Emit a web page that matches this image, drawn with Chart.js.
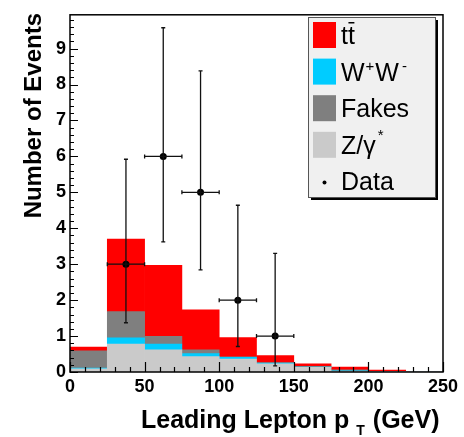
<!DOCTYPE html>
<html><head><meta charset="utf-8">
<script src="https://cdn.jsdelivr.net/npm/chart.js@4.4.0/dist/chart.umd.min.js"></script>
<style>html,body{margin:0;padding:0;background:#fff;}#wrap{width:464px;height:437px;position:relative;}</style>
</head><body><div id="wrap"><canvas id="c" width="464" height="437" style="width:464px;height:437px"></canvas></div>
<script>
// ---- data ----
const binCenters = [12.5, 37.5, 62.5, 87.5, 112.5, 137.5, 162.5, 187.5, 212.5, 237.5];
const zGamma = [0.09, 0.78, 0.62, 0.43, 0.36, 0.23, 0.13, 0.02, 0.01, 0];
const wwVals = [0.02, 0.17, 0.16, 0.08, 0.05, 0.02, 0.01, 0.01, 0, 0];
const fakes  = [0.48, 0.73, 0.21, 0.11, 0.01, 0.01, 0.02, 0.03, 0, 0];
const ttbar  = [0.10, 2.02, 1.98, 1.11, 0.54, 0.20, 0.07, 0.08, 0.04, 0];
const dataX = [37.5, 62.5, 87.5, 112.5, 137.5];
const dataY = [3, 6, 5, 2, 1];
const dataLow = [1.37, 3.62, 2.84, 0.71, 0.17];
const dataHigh = [5.92, 9.58, 8.38, 4.64, 3.30];
const binHalfWidth = 12.5;
const xTickLabels = ['0', '50', '100', '150', '200', '250'];
const yTickLabels = ['0', '1', '2', '3', '4', '5', '6', '7', '8', '9'];

const FONT = "'Liberation Sans', Arial, Helvetica, sans-serif";
const toXY = (vals) => vals.map((v, i) => ({x: binCenters[i], y: v}));

const decor = {
  id: 'decor',
  afterDatasetsDraw(chart) {
    const ctx = chart.ctx, xs = chart.scales.x, ys = chart.scales.y;
    const a = chart.chartArea;
    ctx.save();
    // error bars
    ctx.strokeStyle = '#111'; ctx.lineWidth = 1.3;
    for (let i = 0; i < dataX.length; i++) {
      const px = xs.getPixelForValue(dataX[i]);
      const py = ys.getPixelForValue(dataY[i]);
      const x0 = xs.getPixelForValue(dataX[i] - binHalfWidth);
      const x1 = xs.getPixelForValue(dataX[i] + binHalfWidth);
      const y0 = ys.getPixelForValue(dataLow[i]);
      const y1 = ys.getPixelForValue(dataHigh[i]);
      ctx.beginPath();
      ctx.moveTo(px, y0); ctx.lineTo(px, y1);
      ctx.moveTo(x0, py); ctx.lineTo(x1, py);
      ctx.moveTo(px - 2, y0); ctx.lineTo(px + 2, y0);
      ctx.moveTo(px - 2, y1); ctx.lineTo(px + 2, y1);
      ctx.moveTo(x0, py - 2); ctx.lineTo(x0, py + 2);
      ctx.moveTo(x1, py - 2); ctx.lineTo(x1, py + 2);
      ctx.stroke();
    }
    // frame
    ctx.strokeStyle = '#000'; ctx.lineWidth = 1.5;
    ctx.strokeRect(a.left, a.top, a.right - a.left, a.bottom - a.top);
    // inward ticks
    ctx.lineWidth = 1.2;
    ctx.beginPath();
    for (let i = 0; i <= 49; i++) {
      const v = i * 0.2;
      if (v > ys.max) break;
      const p = Math.round(ys.getPixelForValue(v)) + 0.5;
      const len = (i % 5 === 0) ? 8 : 4;
      ctx.moveTo(a.left, p); ctx.lineTo(a.left + len, p);
    }
    for (let i = 0; i <= 25; i++) {
      const v = i * 10;
      const p = Math.round(xs.getPixelForValue(v)) + 0.5;
      const len = (v % 50 === 0) ? 10 : 5;
      ctx.moveTo(p, a.bottom); ctx.lineTo(p, a.bottom - len);
    }
    ctx.stroke();
    ctx.restore();
  },
  afterDraw(chart) {
    const ctx = chart.ctx;
    ctx.save();
    // y title
    ctx.fillStyle = '#000';
    ctx.font = 'bold 24px ' + FONT;
    ctx.translate(34, 13);
    ctx.rotate(-Math.PI / 2);
    ctx.textAlign = 'right'; ctx.textBaseline = 'middle';
    ctx.fillText('Number of Events', 0, 0);
    ctx.restore();
    // x title
    ctx.save();
    ctx.fillStyle = '#000';
    ctx.textBaseline = 'alphabetic'; ctx.textAlign = 'left';
    ctx.font = 'bold 25px ' + FONT;
    const t1 = 'Leading Lepton p';
    let x = 141;
    ctx.fillText(t1, x, 428);
    x += ctx.measureText(t1).width + 7;
    ctx.font = 'bold 14px ' + FONT;
    ctx.fillText('T', x, 435);
    x += ctx.measureText('T').width + 1;
    ctx.font = 'bold 25px ' + FONT;
    ctx.fillText(' (GeV)', x, 428);
    ctx.restore();
    // legend
    ctx.save();
    const bx = 308, by = 17, bw = 127, bh = 180;
    ctx.fillStyle = '#000';
    ctx.fillRect(bx + 3, by + 3, bw, bh);
    ctx.fillStyle = '#f0f0f0';
    ctx.fillRect(bx, by, bw, bh);
    ctx.strokeStyle = '#555'; ctx.lineWidth = 1;
    ctx.strokeRect(bx + 0.5, by + 0.5, bw, bh);
    const entries = chart.data.datasets.filter(d => d.legendRow !== undefined)
      .sort((p, q) => p.legendRow - q.legendRow);
    entries.forEach((d) => {
      const cy = 35 + d.legendRow * 36.6;
      if (d.type === 'line') {
        ctx.fillStyle = '#000';
        ctx.beginPath(); ctx.arc(324.5, cy + 1, 2, 0, Math.PI * 2); ctx.fill();
      } else {
        ctx.fillStyle = d.backgroundColor;
        ctx.fillRect(313, cy - 13, 23, 26);
      }
    });
    ctx.fillStyle = '#000';
    ctx.textBaseline = 'alphabetic'; ctx.textAlign = 'left';
    const big = '25px ' + FONT, small = '15px ' + FONT;
    const tx = 341;
    // ttbar
    ctx.font = big;
    let y = 35 + 9;
    ctx.fillText('t', tx, y);
    const wt = ctx.measureText('t').width;
    ctx.fillText('t', tx + wt, y);
    ctx.fillRect(tx + wt + 0.5, y - 22, wt - 1, 1.5);
    // W+W-
    y = 35 + 36.6 + 9;
    ctx.font = big; ctx.fillText('W', tx, y);
    let xx = tx + ctx.measureText('W').width + 1;
    ctx.font = small; ctx.fillText('+', xx, y - 10);
    xx += ctx.measureText('+').width + 1;
    ctx.font = big; ctx.fillText('W', xx, y);
    xx += ctx.measureText('W').width + 3;
    ctx.font = small; ctx.fillText('-', xx, y - 10);
    // Fakes
    y = 35 + 2 * 36.6 + 9;
    ctx.font = big; ctx.fillText('Fakes', tx, y);
    // Z/gamma*
    y = 35 + 3 * 36.6 + 9;
    ctx.font = big; ctx.fillText('Z/\u03B3', tx, y);
    xx = tx + ctx.measureText('Z/\u03B3').width + 2;
    ctx.font = small; ctx.fillText('*', xx, y - 14);
    // Data
    y = 35 + 4 * 36.6 + 9;
    ctx.font = big; ctx.fillText('Data', tx, y);
    ctx.restore();
  }
};

new Chart(document.getElementById('c'), {
  data: {
    datasets: [
      { type: 'line', label: 'Data', legendRow: 4, stack: 'data',
        data: dataX.map((v, i) => ({x: v, y: dataY[i]})),
        showLine: false, pointRadius: 3.5, pointBackgroundColor: '#000', pointBorderWidth: 0, borderColor: '#000' },
      { type: 'bar', label: 'Z/\u03B3*', legendRow: 3, stack: 'mc', data: toXY(zGamma), backgroundColor: '#cacaca' },
      { type: 'bar', label: 'W+W-', legendRow: 1, stack: 'mc', data: toXY(wwVals), backgroundColor: '#00ccff' },
      { type: 'bar', label: 'Fakes', legendRow: 2, stack: 'mc', data: toXY(fakes), backgroundColor: '#7f7f7f' },
      { type: 'bar', label: 'tt\u0305', legendRow: 0, stack: 'mc', data: toXY(ttbar), backgroundColor: '#ff0000' }
    ]
  },
  options: {
    responsive: false, animation: false,
    devicePixelRatio: 1,
    layout: { padding: { top: 11, right: 21, left: 0, bottom: 0 } },
    datasets: { bar: { barPercentage: 1, categoryPercentage: 1, borderWidth: 0 } },
    plugins: { legend: { display: false }, tooltip: { enabled: false } },
    scales: {
      x: {
        type: 'linear', min: 0, max: 250, stacked: true, offset: false,
        grid: { display: false, drawTicks: false },
        border: { display: false },
        afterFit: (s) => { s.height = 65; },
        ticks: { stepSize: 50, padding: 4, color: '#000', font: { family: FONT, size: 18, weight: 'bold' },
          callback: (v) => xTickLabels[v / 50] }
      },
      y: {
        type: 'linear', min: 0, max: 9.94, stacked: true,
        grid: { display: false, drawTicks: false },
        border: { display: false },
        afterFit: (s) => { s.width = 70; },
        ticks: { stepSize: 1, includeBounds: false, padding: 4, color: '#000', font: { family: FONT, size: 18, weight: 'bold' },
          callback: (v) => yTickLabels[v] }
      }
    }
  },
  plugins: [decor]
});
</script></body></html>
